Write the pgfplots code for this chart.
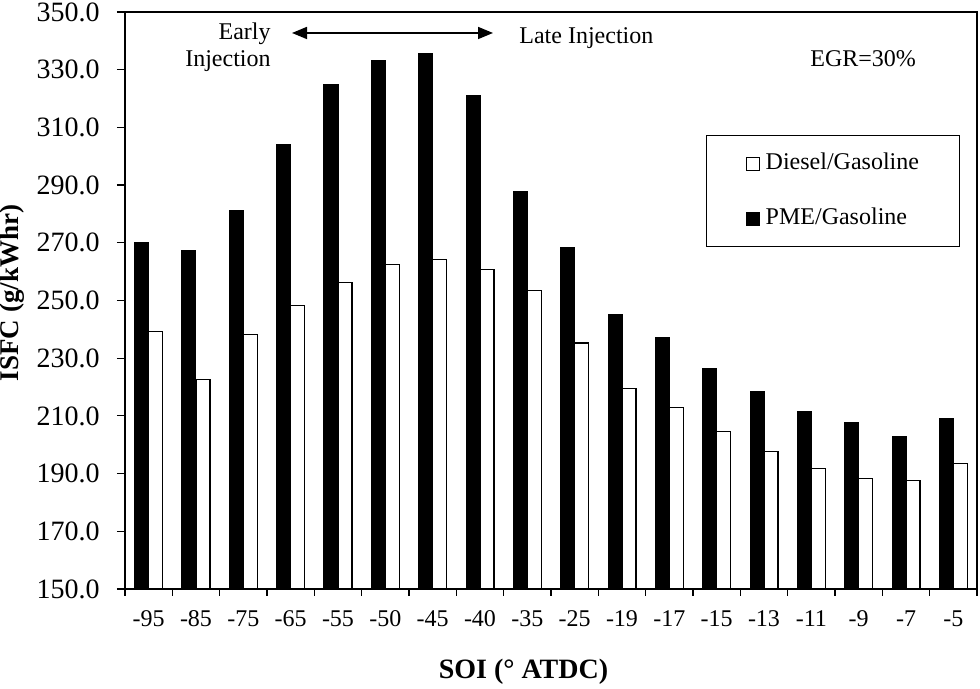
\documentclass[border=0pt]{standalone}
\usepackage{pgfplots}
\pgfplotsset{compat=1.18}
\usepackage{fontspec}
\setmainfont{Liberation Serif}
\usetikzlibrary{arrows.meta}
\begin{document}
\begin{tikzpicture}
\begin{axis}[
  scale only axis, width=426pt, height=288.5pt,
  at={(0,0)}, anchor=south west,
  ybar=0pt, bar width=7pt,
  ymin=150, ymax=350, ytick={150,170,...,350},
  xmin=-0.5, xmax=17.5,
  xtick={0,...,17},
  xticklabels={-95,-85,-75,-65,-55,-50,-45,-40,-35,-25,-19,-17,-15,-13,-11,-9,-7,-5},
  minor xtick={-0.5,0.5,...,17.5},
  major x tick style={draw=none},
  tick align=outside, major tick length=4pt, minor tick length=3.5pt,
  xtick pos=bottom, ytick pos=left,
  axis line style={line width=0.6pt},
  every tick/.style={black, line width=0.6pt},
  yticklabel style={/pgf/number format/.cd, fixed, fixed zerofill, precision=1, assume math mode=true, /tikz/.cd, font=\fontsize{14}{16}\selectfont, inner sep=0pt, xshift=-8.5pt},
  xticklabel style={font=\fontsize{12}{14}\selectfont, inner sep=0pt, yshift=-6.5pt},
  xlabel={SOI (° ATDC)},
  ylabel={ISFC (g/kWhr)},
  xlabel style={at={(axis description cs:0.4677,-0.1438)}, anchor=center, font=\fontsize{14}{16}\selectfont\bfseries},
  ylabel style={at={(axis description cs:-0.1326,0.513)}, anchor=center, rotate=0, font=\fontsize{13.5}{16}\selectfont\bfseries},
  reverse legend,
  legend cell align=left,
  legend style={at={(rel axis cs:0.6815,0.7868)}, anchor=north west, draw=black, line width=0.6pt,
    inner xsep=19.7pt, inner ysep=8.5pt, row sep=16.5pt,
    font=\fontsize{12}{14}\selectfont,
    nodes={text height=8.5pt, text depth=2.5pt, inner sep=0pt, text width=77pt, align=left},
    /tikz/every even column/.append style={column sep=0pt}},
  legend image code/.code={\draw[#1, line width=0.5pt] (0pt,-3.25pt) rectangle (6.5pt,3.25pt); \path (9.5pt,0pt);},
]
\addplot[fill=black, draw=black, line width=0.5pt] coordinates {
(0,270.0) (1,267.2) (2,281.1) (3,304.2) (4,325.0) (5,333.1) (6,335.5) (7,321.1) (8,287.8)
(9,268.2) (10,245.2) (11,237.0) (12,226.6) (13,218.4) (14,211.6) (15,207.8) (16,203.0) (17,209.2)};
\addlegendentry{PME/Gasoline}
\addplot[fill=white, draw=black, line width=0.6pt] coordinates {
(0,239.2) (1,222.7) (2,238.1) (3,248.4) (4,256.3) (5,262.4) (6,264.1) (7,260.7) (8,253.5)
(9,235.3) (10,219.6) (11,212.8) (12,204.5) (13,197.7) (14,191.8) (15,188.4) (16,187.5) (17,193.6)};
\addlegendentry{Diesel/Gasoline}
\end{axis}
\begin{scope}[every node/.style={font=\fontsize{12}{14}\selectfont, inner sep=0pt}]
\node[anchor=base east] at (73pt,274.5pt) {Early};
\node[anchor=base east] at (73pt,261.2pt) {Injection};
\draw[{Triangle[length=7.5pt,width=6pt]}-{Triangle[length=7.5pt,width=6pt]}, line width=0.8pt] (83.5pt,278pt) -- (184pt,278pt);
\node[anchor=base west] at (197pt,272.5pt) {Late Injection};
\node[anchor=base west] at (342.5pt,261.2pt) {EGR=30\%};
\end{scope}
\pgfresetboundingbox
\path[use as bounding box] (-62.5pt,-50pt) rectangle (427.5pt,294.5pt);
\end{tikzpicture}
\end{document}
